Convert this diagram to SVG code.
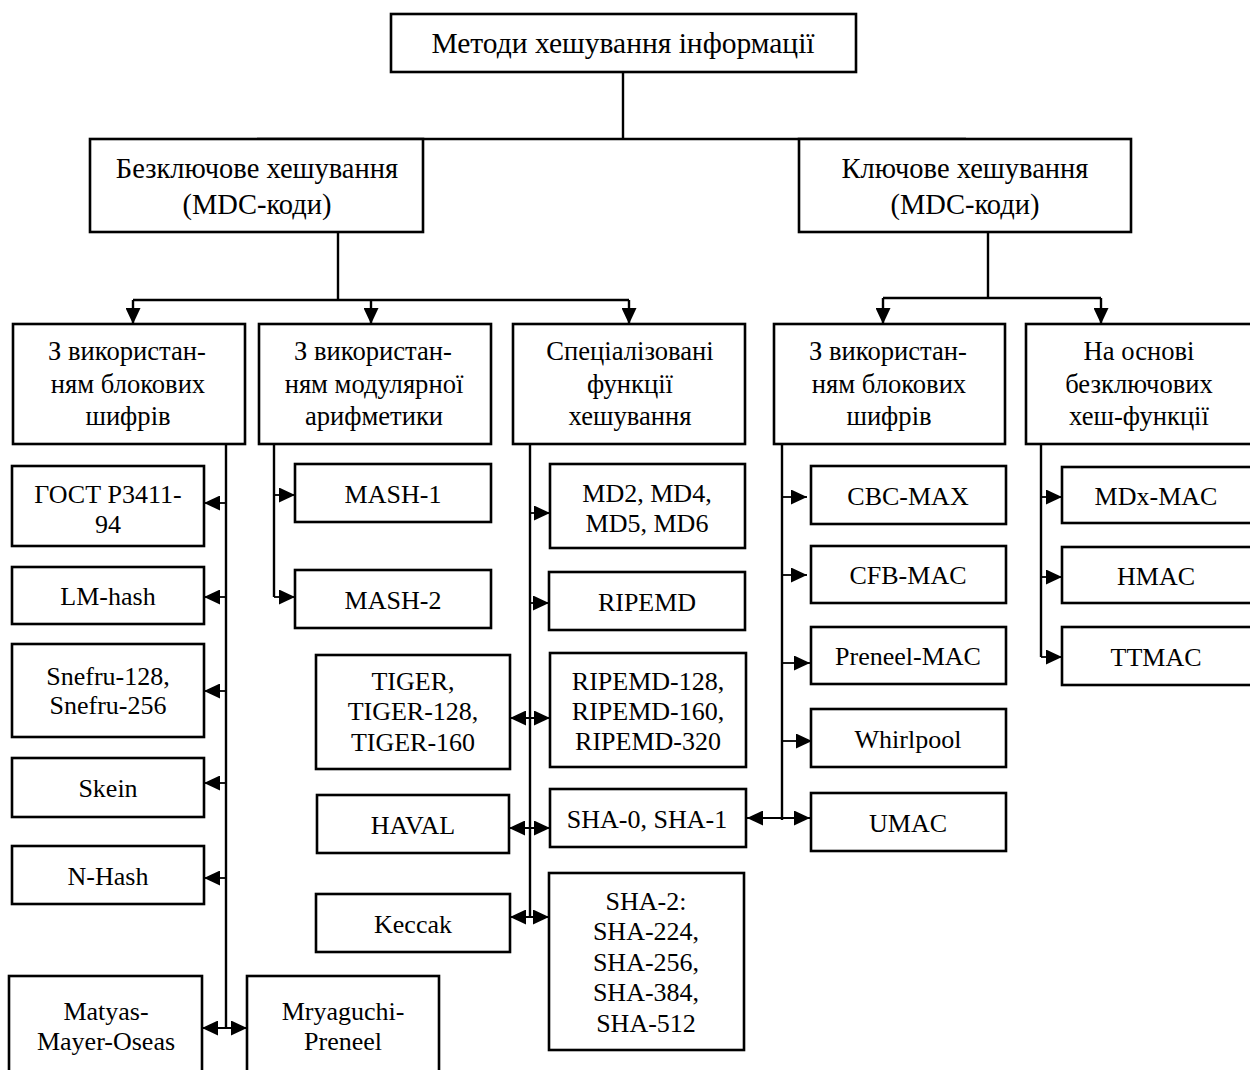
<svg xmlns="http://www.w3.org/2000/svg" width="1250" height="1070" viewBox="0 0 1250 1070">
  <style>
    .box { fill: #fff; stroke: #000; stroke-width: 2.6; }
    .ln { fill: none; stroke: #000; stroke-width: 2.4; }
    .st { fill: none; stroke: #000; stroke-width: 1.8; }
    text { font-family: "Liberation Serif", "Times New Roman", serif; font-size: 26px; fill: #000; text-anchor: middle; }
    .top { font-size: 29.5px; }
    .big { font-size: 28.5px; }
    .hd { font-size: 26.6px; }
  </style>
  <defs>
    <marker id="arr" markerUnits="userSpaceOnUse" viewBox="0 0 16 15" refX="16" refY="7.5" markerWidth="16" markerHeight="15" orient="auto-start-reverse">
      <path d="M0,0 L16,7.5 L0,15 Z" fill="#000"/>
    </marker>
  </defs>

  <!-- connectors -->
  <g id="connectors">
    <!-- root to the two main branches -->
    <path class="ln" d="M623,72 V139 M257,139 H966"/>
    <path class="ln" d="M257,139 V173" marker-end="url(#arr)"/>
    <path class="ln" d="M966,139 V173" marker-end="url(#arr)"/>
    <!-- keyless branch -->
    <path class="ln" d="M338,232 V300 M133,300 H629"/>
    <path class="ln" d="M133,300 V324" marker-end="url(#arr)"/>
    <path class="ln" d="M371,300 V324" marker-end="url(#arr)"/>
    <path class="ln" d="M629,300 V324" marker-end="url(#arr)"/>
    <!-- keyed branch -->
    <path class="ln" d="M988,232 V298 M883,298 H1101"/>
    <path class="ln" d="M883,298 V324" marker-end="url(#arr)"/>
    <path class="ln" d="M1101,298 V324" marker-end="url(#arr)"/>

    <!-- block ciphers (keyless) -->
    <path class="ln" d="M226,444 V1028"/>
    <path class="st" d="M226,503 H204" marker-end="url(#arr)"/>
    <path class="st" d="M226,597 H204" marker-end="url(#arr)"/>
    <path class="st" d="M226,691 H204" marker-end="url(#arr)"/>
    <path class="st" d="M226,783 H204" marker-end="url(#arr)"/>
    <path class="st" d="M226,878 H204" marker-end="url(#arr)"/>
    <path class="st" d="M202,1028 H247" marker-start="url(#arr)" marker-end="url(#arr)"/>

    <!-- modular arithmetic -->
    <path class="ln" d="M274,444 V597"/>
    <path class="st" d="M274,495 H295" marker-end="url(#arr)"/>
    <path class="st" d="M274,597 H295" marker-end="url(#arr)"/>

    <!-- dedicated hash functions -->
    <path class="ln" d="M530,444 V917"/>
    <path class="st" d="M530,513 H550" marker-end="url(#arr)"/>
    <path class="st" d="M530,603 H549" marker-end="url(#arr)"/>
    <path class="st" d="M510,718 H550" marker-start="url(#arr)" marker-end="url(#arr)"/>
    <path class="st" d="M509,828 H550" marker-start="url(#arr)" marker-end="url(#arr)"/>
    <path class="st" d="M510,917 H549" marker-start="url(#arr)" marker-end="url(#arr)"/>

    <!-- block ciphers (keyed) -->
    <path class="ln" d="M782,444 V820"/>
    <path class="st" d="M782,497 H807" marker-end="url(#arr)"/>
    <path class="st" d="M782,575 H807" marker-end="url(#arr)"/>
    <path class="st" d="M782,663 H810" marker-end="url(#arr)"/>
    <path class="st" d="M782,741 H812" marker-end="url(#arr)"/>
    <path class="st" d="M747,818 H810" marker-start="url(#arr)" marker-end="url(#arr)"/>

    <!-- based on keyless hash functions -->
    <path class="ln" d="M1041,444 V657"/>
    <path class="st" d="M1041,497 H1062" marker-end="url(#arr)"/>
    <path class="st" d="M1041,577 H1062" marker-end="url(#arr)"/>
    <path class="st" d="M1041,657 H1062" marker-end="url(#arr)"/>
  </g>

  <!-- level 0 -->
  <g id="root">
    <rect class="box" x="391" y="14" width="465" height="58"/>
    <text class="top" x="623" y="53">Методи хешування інформації</text>
  </g>

  <!-- level 1 -->
  <g id="keyless">
    <rect class="box" x="90" y="139" width="333" height="93"/>
    <text class="big" x="257" y="178">Безключове хешування</text>
    <text class="big" x="257" y="214">(MDC-коди)</text>
  </g>
  <g id="keyed">
    <rect class="box" x="799" y="139" width="332" height="93"/>
    <text class="big" x="965" y="178">Ключове хешування</text>
    <text class="big" x="965" y="214">(MDC-коди)</text>
  </g>

  <!-- level 2 -->
  <g id="kl-block">
    <rect class="box" x="13" y="324" width="232" height="120"/>
    <text class="hd" x="127" y="360">З використан-</text>
    <text class="hd" x="128" y="393">ням блокових</text>
    <text class="hd" x="128" y="425">шифрів</text>
  </g>
  <g id="kl-modular">
    <rect class="box" x="259" y="324" width="232" height="120"/>
    <text class="hd" x="373" y="360">З використан-</text>
    <text class="hd" x="374" y="393">ням модулярної</text>
    <text class="hd" x="374" y="425">арифметики</text>
  </g>
  <g id="kl-special">
    <rect class="box" x="513" y="324" width="232" height="120"/>
    <text class="hd" x="630" y="360">Спеціалізовані</text>
    <text class="hd" x="630" y="393">функції</text>
    <text class="hd" x="630" y="425">хешування</text>
  </g>
  <g id="k-block">
    <rect class="box" x="774" y="324" width="231" height="120"/>
    <text class="hd" x="888" y="360">З використан-</text>
    <text class="hd" x="889" y="393">ням блокових</text>
    <text class="hd" x="889" y="425">шифрів</text>
  </g>
  <g id="k-hash">
    <rect class="box" x="1026" y="324" width="240" height="120"/>
    <text class="hd" x="1139" y="360">На основі</text>
    <text class="hd" x="1139" y="393">безключових</text>
    <text class="hd" x="1139" y="425">хеш-функції</text>
  </g>

  <!-- keyless: block ciphers -->
  <g id="gost">
    <rect class="box" x="12" y="466" width="192" height="80"/>
    <text x="108" y="503">ГОСТ Р3411-</text>
    <text x="108" y="533">94</text>
  </g>
  <g id="lmhash">
    <rect class="box" x="12" y="567" width="192" height="57"/>
    <text x="108" y="605">LM-hash</text>
  </g>
  <g id="snefru">
    <rect class="box" x="12" y="644" width="192" height="93"/>
    <text x="108" y="685">Snefru-128,</text>
    <text x="108" y="714">Snefru-256</text>
  </g>
  <g id="skein">
    <rect class="box" x="12" y="758" width="192" height="59"/>
    <text x="108" y="797">Skein</text>
  </g>
  <g id="nhash">
    <rect class="box" x="12" y="846" width="192" height="58"/>
    <text x="108" y="885">N-Hash</text>
  </g>
  <g id="mmo">
    <rect class="box" x="9" y="976" width="193" height="110"/>
    <text x="106" y="1020">Matyas-</text>
    <text x="106" y="1050">Mayer-Oseas</text>
  </g>
  <g id="mp">
    <rect class="box" x="247" y="976" width="192" height="110"/>
    <text x="343" y="1020">Mryaguchi-</text>
    <text x="343" y="1050">Preneel</text>
  </g>

  <!-- keyless: modular arithmetic -->
  <g id="mash1">
    <rect class="box" x="295" y="464" width="196" height="58"/>
    <text x="393" y="503">MASH-1</text>
  </g>
  <g id="mash2">
    <rect class="box" x="295" y="570" width="196" height="58"/>
    <text x="393" y="609">MASH-2</text>
  </g>

  <!-- keyless: dedicated functions -->
  <g id="tiger">
    <rect class="box" x="316" y="655" width="194" height="114"/>
    <text x="413" y="690">TIGER,</text>
    <text x="413" y="720">TIGER-128,</text>
    <text x="413" y="751">TIGER-160</text>
  </g>
  <g id="haval">
    <rect class="box" x="317" y="795" width="192" height="58"/>
    <text x="413" y="834">HAVAL</text>
  </g>
  <g id="keccak">
    <rect class="box" x="316" y="894" width="194" height="58"/>
    <text x="413" y="933">Keccak</text>
  </g>
  <g id="md">
    <rect class="box" x="550" y="464" width="195" height="84"/>
    <text x="647" y="502">MD2, MD4,</text>
    <text x="647" y="532">MD5, MD6</text>
  </g>
  <g id="ripemd">
    <rect class="box" x="549" y="572" width="196" height="58"/>
    <text x="647" y="611">RIPEMD</text>
  </g>
  <g id="ripemd-n">
    <rect class="box" x="550" y="653" width="196" height="114"/>
    <text x="648" y="690">RIPEMD-128,</text>
    <text x="648" y="720">RIPEMD-160,</text>
    <text x="648" y="750">RIPEMD-320</text>
  </g>
  <g id="sha01">
    <rect class="box" x="550" y="789" width="196" height="58"/>
    <text x="647" y="828">SHA-0, SHA-1</text>
  </g>
  <g id="sha2">
    <rect class="box" x="549" y="873" width="195" height="177"/>
    <text x="646" y="910">SHA-2:</text>
    <text x="646" y="940">SHA-224,</text>
    <text x="646" y="971">SHA-256,</text>
    <text x="646" y="1001">SHA-384,</text>
    <text x="646" y="1032">SHA-512</text>
  </g>

  <!-- keyed: block ciphers -->
  <g id="cbc">
    <rect class="box" x="811" y="466" width="195" height="58"/>
    <text x="908" y="505">CBC-MAX</text>
  </g>
  <g id="cfb">
    <rect class="box" x="811" y="546" width="195" height="57"/>
    <text x="908" y="584">CFB-MAC</text>
  </g>
  <g id="preneel">
    <rect class="box" x="811" y="627" width="195" height="57"/>
    <text x="908" y="665">Preneel-MAC</text>
  </g>
  <g id="whirlpool">
    <rect class="box" x="811" y="709" width="195" height="58"/>
    <text x="908" y="748">Whirlpool</text>
  </g>
  <g id="umac">
    <rect class="box" x="811" y="793" width="195" height="58"/>
    <text x="908" y="832">UMAC</text>
  </g>

  <!-- keyed: based on keyless hashes -->
  <g id="mdx">
    <rect class="box" x="1062" y="467" width="200" height="56"/>
    <text x="1156" y="505">MDx-MAC</text>
  </g>
  <g id="hmac">
    <rect class="box" x="1062" y="547" width="200" height="56"/>
    <text x="1156" y="585">HMAC</text>
  </g>
  <g id="ttmac">
    <rect class="box" x="1062" y="627" width="200" height="58"/>
    <text x="1156" y="666">TTMAC</text>
  </g>
</svg>
